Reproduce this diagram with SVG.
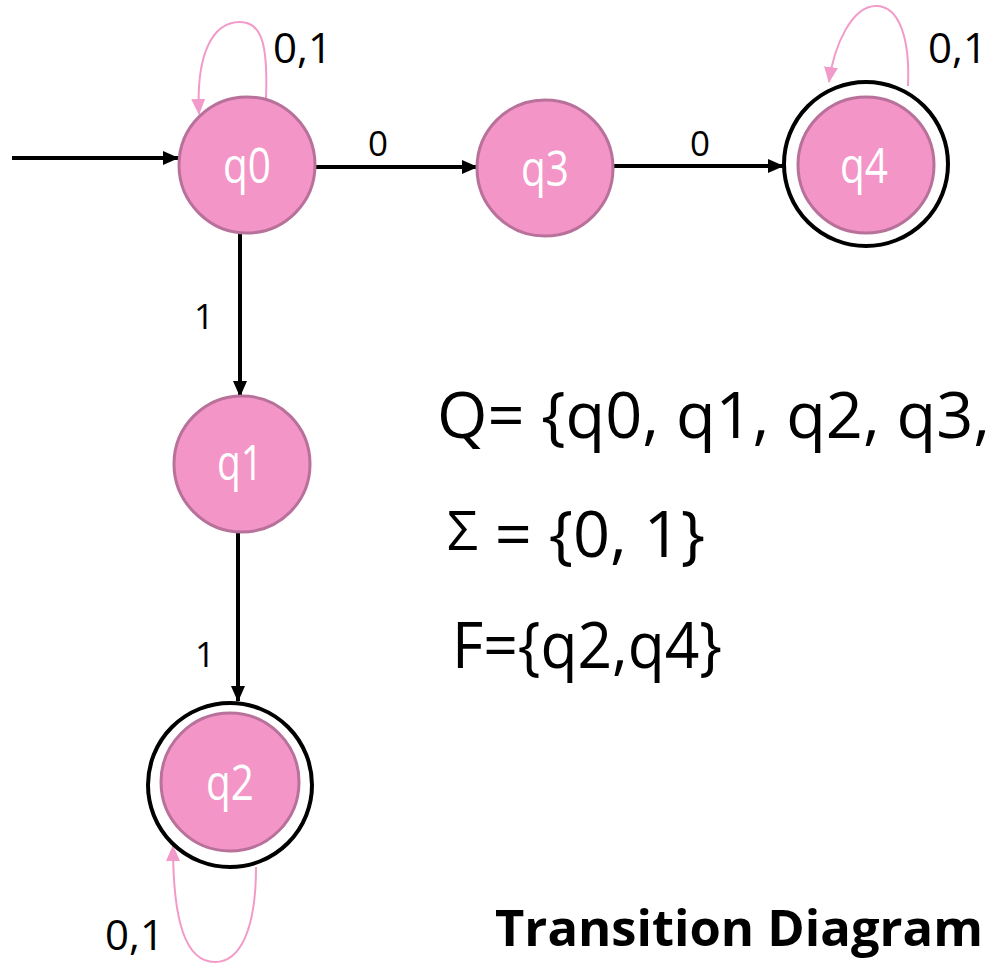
<svg xmlns="http://www.w3.org/2000/svg" width="996" height="963" viewBox="0 0 996 963">
<defs>
<marker id="ah" markerWidth="16" markerHeight="14" refX="15" refY="7" orient="auto" markerUnits="userSpaceOnUse">
<path d="M0,0 L16,7 L0,14 z" fill="#000"/>
</marker>
<marker id="ph" markerWidth="16" markerHeight="14" refX="15" refY="7" orient="auto" markerUnits="userSpaceOnUse">
<path d="M0,0 L16,7 L0,14 z" fill="#f29ac9"/>
</marker>
<style>
.st{fill:#f395c7;stroke:#b8719a;stroke-width:3}
.acc{fill:none;stroke:#000;stroke-width:4}
.nl{font-family:"Open Sans","Noto Sans",sans-serif;font-size:50px;fill:#fff;text-anchor:middle}
.el{font-family:"Open Sans","Noto Sans",sans-serif;font-size:35px;fill:#000;text-anchor:middle}
.ll{font-family:"Open Sans","Noto Sans",sans-serif;font-size:42px;fill:#000}
.edge{fill:none;stroke:#000;stroke-width:4;marker-end:url(#ah)}
.loop{fill:none;stroke:#f29ac9;stroke-width:2;marker-end:url(#ph)}
.big{font-family:"Open Sans","Noto Sans",sans-serif;font-size:64px;fill:#000}
.title{font-family:"Open Sans","Noto Sans",sans-serif;font-size:50px;font-weight:bold;fill:#000}
</style>
</defs>
<g id="connectors">
<line class="edge" x1="12" y1="158" x2="178" y2="158"/>
<line class="edge" x1="316" y1="167" x2="477" y2="167"/>
<line class="edge" x1="614" y1="166" x2="783" y2="166"/>
<line class="edge" x1="240" y1="234" x2="240" y2="396"/>
<line class="edge" x1="238" y1="533" x2="238" y2="701"/>
<path class="loop" d="M266,99 C268,45 262,22 240,22 C212,22 196,55 199,114"/>
<path class="loop" d="M908,86 C910,40 900,6 876,6 C852,6 834,45 829,82"/>
<path class="loop" d="M256,867 C256,930 240,962 215,962 C185,962 173,920 173,846"/>
<text class="el" x="378" y="156">0</text>
<text class="el" x="700" y="156">0</text>
<text class="el" x="204" y="329">1</text>
<text class="el" x="205" y="667">1</text>
<text class="ll" x="273" y="63">0,1</text>
<text class="ll" x="928" y="63">0,1</text>
<text class="ll" x="105" y="950">0,1</text>
</g>
<g id="q0">
<circle class="st" cx="247" cy="165" r="68"/>
<text class="nl" x="247" y="183" textLength="48" lengthAdjust="spacingAndGlyphs">q0</text>
</g>
<g id="q3">
<circle class="st" cx="545" cy="168" r="68"/>
<text class="nl" x="545" y="186" textLength="48" lengthAdjust="spacingAndGlyphs">q3</text>
</g>
<g id="q4">
<circle class="acc" cx="866" cy="164" r="82"/>
<circle class="st" cx="866" cy="165" r="68"/>
<text class="nl" x="864" y="183" textLength="48" lengthAdjust="spacingAndGlyphs">q4</text>
</g>
<g id="q1">
<circle class="st" cx="242" cy="464" r="68"/>
<text class="nl" x="240" y="480" textLength="46" lengthAdjust="spacingAndGlyphs">q1</text>
</g>
<g id="q2">
<circle class="acc" cx="230" cy="785" r="82"/>
<circle class="st" cx="230" cy="782" r="69"/>
<text class="nl" x="230" y="800" textLength="48" lengthAdjust="spacingAndGlyphs">q2</text>
</g>
<g id="definitions">
<text class="big" x="437" y="438" textLength="553" lengthAdjust="spacingAndGlyphs">Q= {q0, q1, q2, q3,</text>
<text class="big" x="447" y="557" textLength="258" lengthAdjust="spacingAndGlyphs"><tspan font-size="54" dy="-7">Σ</tspan><tspan dy="7"> = {0, 1}</tspan></text>
<text class="big" x="452" y="668" textLength="270" lengthAdjust="spacingAndGlyphs">F={q2,q4}</text>
</g>
<g id="title">
<text class="title" x="495" y="946" textLength="488" lengthAdjust="spacingAndGlyphs">Transition Diagram</text>
</g>
</svg>
